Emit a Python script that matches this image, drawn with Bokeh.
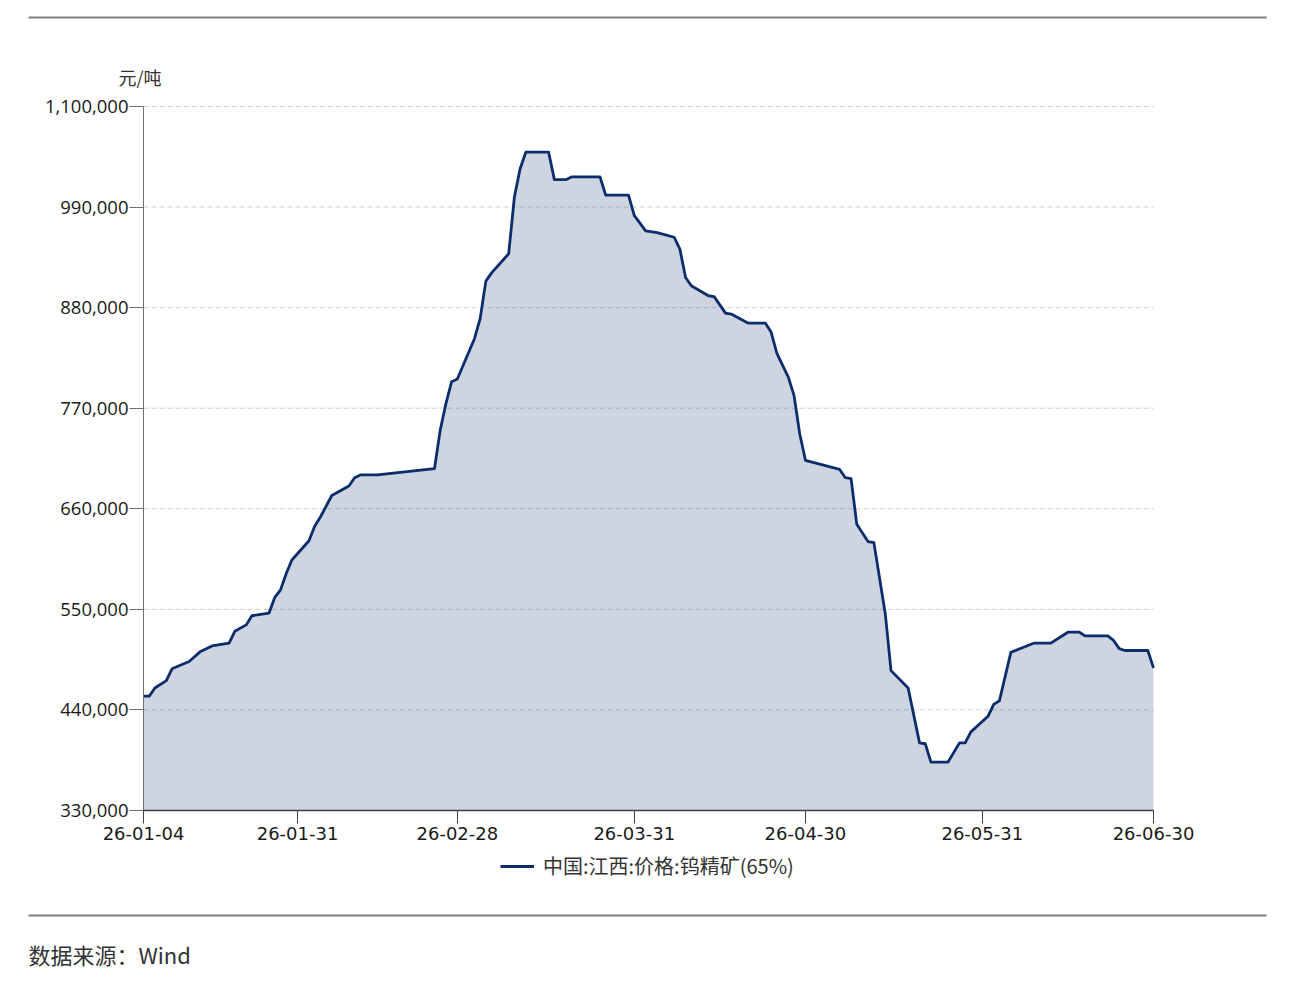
import pandas as pd
from bokeh.plotting import figure
from bokeh.models import (Range1d, FixedTicker, DatetimeTickFormatter, NumeralTickFormatter,
                          ColumnDataSource, Label, BoxAnnotation, Legend, LegendItem)
from bokeh.embed import file_html
from bokeh.resources import INLINE

# ---- data ----
dates = [
    "2026-01-04", "2026-01-05", "2026-01-06", "2026-01-08", "2026-01-09", "2026-01-12",
    "2026-01-14", "2026-01-16", "2026-01-19", "2026-01-20", "2026-01-22", "2026-01-23",
    "2026-01-26", "2026-01-27", "2026-01-28", "2026-01-29", "2026-01-30", "2026-02-02",
    "2026-02-03", "2026-02-04", "2026-02-06", "2026-02-09", "2026-02-10", "2026-02-11",
    "2026-02-14", "2026-02-24", "2026-02-25", "2026-02-26", "2026-02-27", "2026-02-28",
    "2026-03-03", "2026-03-04", "2026-03-05", "2026-03-06", "2026-03-09", "2026-03-10",
    "2026-03-11", "2026-03-12", "2026-03-16", "2026-03-17", "2026-03-19", "2026-03-20",
    "2026-03-25", "2026-03-26", "2026-03-30", "2026-03-31", "2026-04-02", "2026-04-04",
    "2026-04-07", "2026-04-08", "2026-04-09", "2026-04-10", "2026-04-13", "2026-04-14",
    "2026-04-16", "2026-04-17", "2026-04-20", "2026-04-23", "2026-04-24", "2026-04-25",
    "2026-04-27", "2026-04-28", "2026-04-29", "2026-04-30", "2026-05-06", "2026-05-07",
    "2026-05-08", "2026-05-09", "2026-05-11", "2026-05-12", "2026-05-14", "2026-05-15",
    "2026-05-18", "2026-05-20", "2026-05-21", "2026-05-22", "2026-05-25", "2026-05-27",
    "2026-05-28", "2026-05-29", "2026-06-01", "2026-06-02", "2026-06-03", "2026-06-05",
    "2026-06-09", "2026-06-12", "2026-06-15", "2026-06-17", "2026-06-18", "2026-06-22",
    "2026-06-23", "2026-06-24", "2026-06-25", "2026-06-29", "2026-06-30",
]
prices = [
    455000, 455000, 464000, 472000, 485000, 493000,
    504000, 510000, 513000, 526000, 533000, 543000,
    546000, 563000, 571000, 589000, 604000, 625000,
    641000, 651000, 674500, 685000, 694000, 697000,
    697000, 704000, 746000, 775000, 799000, 802000,
    846000, 868000, 909000, 918000, 939000, 1001000,
    1032000, 1050000, 1050000, 1020000, 1020000, 1023000,
    1023000, 1003000, 1003000, 981000, 964000, 962000,
    957000, 944000, 913000, 904000, 893000, 892000,
    874000, 873000, 863000, 863000, 853000, 830000,
    804000, 784000, 742000, 713000, 703000, 694000,
    693000, 643000, 624000, 623000, 545000, 483000,
    464000, 404000, 403000, 383000, 383000, 404000,
    404000, 416000, 433000, 446000, 450000, 503000,
    513000, 513000, 525000, 525000, 521000, 521000,
    516000, 507000, 505000, 505000, 486000,
]
x_tick_dates = ["2026-01-04", "2026-01-31", "2026-02-28", "2026-03-31",
                "2026-04-30", "2026-05-31", "2026-06-30"]
y_ticks = [330000, 440000, 550000, 660000, 770000, 880000, 990000, 1100000]
y_min, y_max = 330000, 1100000
unit_label = "元/吨"
series_name = "中国:江西:价格:钨精矿(65%)"
source_note = "数据来源：Wind"

# ---- layout / styles (pixels) ----
W, H = 1285, 980
PX_L, PX_R, PX_T, PX_B = 143, 1153, 106, 810      # where the data area sits on the page
NAVY = "#0c2d6b"
RULE = "#7f7f7f"
CJK = "Noto Sans CJK SC"

x0_ms = pd.Timestamp(x_tick_dates[0]).value / 1e6
x1_ms = pd.Timestamp(x_tick_dates[-1]).value / 1e6
ms_per_px = (x1_ms - x0_ms) / (PX_R - PX_L)
val_per_px = (y_max - y_min) / (PX_B - PX_T)

p = figure(width=W, height=H, x_axis_type="datetime",
           x_range=Range1d(x0_ms - PX_L * ms_per_px, x1_ms + (W - PX_R) * ms_per_px),
           y_range=Range1d(y_min - (H - PX_B) * val_per_px, y_max + PX_T * val_per_px),
           output_backend="svg", toolbar_location=None,
           min_border_left=0, min_border_right=0, min_border_top=0, min_border_bottom=0)
p.outline_line_color = None
p.background_fill_color = "white"
p.border_fill_color = "white"
p.grid.visible = False

source = ColumnDataSource(dict(x=pd.to_datetime(dates), y=prices))

# dashed horizontal grid lines, bounded to the data area
p.segment(x0=[x0_ms] * len(y_ticks), x1=[x1_ms] * len(y_ticks), y0=y_ticks, y1=y_ticks,
          line_color="#cfcfcf", line_dash="5 3", line_width=1)

p.varea(x="x", y1=y_min, y2="y", source=source, fill_color=NAVY, fill_alpha=0.2)
line_r = p.line(x="x", y="y", source=source, line_color=NAVY, line_width=2.8,
                line_join="round")

# x axis
tick_ms = [pd.Timestamp(d).value / 1e6 for d in x_tick_dates]
xa = p.xaxis[0]
xa.fixed_location = y_min
xa.bounds = (x0_ms, x1_ms)
xa.ticker = FixedTicker(ticks=tick_ms)
fmt = "%y-%m-%d"
xa.formatter = DatetimeTickFormatter(
    microseconds=fmt, milliseconds=fmt, seconds=fmt, minsec=fmt, minutes=fmt,
    hourmin=fmt, hours=fmt, days=fmt, months=fmt, years=fmt)
xa.axis_line_color = "#404040"
xa.axis_line_width = 1.5
xa.major_tick_line_color = "#404040"
xa.major_tick_out = 13
xa.major_tick_in = 0
xa.minor_tick_line_color = None
xa.major_label_standoff = 3
xa.major_label_text_font = "DejaVu Sans"
xa.major_label_text_font_size = "18px"
xa.major_label_text_color = "#1a1a1a"

# y axis
ya = p.yaxis[0]
ya.fixed_location = x0_ms
ya.bounds = (y_min, y_max)
ya.ticker = FixedTicker(ticks=y_ticks)
ya.formatter = NumeralTickFormatter(format="0,0")
ya.axis_line_color = "#707070"
ya.major_tick_line_color = "#707070"
ya.major_tick_out = 14
ya.major_tick_in = 0
ya.minor_tick_line_color = None
ya.major_label_standoff = 1
ya.major_label_text_font = "Open Sans"
ya.major_label_text_font_size = "18.5px"
ya.major_label_text_color = "#1a1a1a"

# unit label
p.add_layout(Label(x=118, y=H - 76, x_units="screen", y_units="screen", text=unit_label,
                   text_font=CJK, text_font_size="18px", text_color="#333333",
                   text_align="left", text_baseline="middle"))

# legend
legend = Legend(items=[LegendItem(label=series_name, renderers=[line_r])],
                location=(500, H - 880), orientation="horizontal",
                glyph_width=34, glyph_height=24, label_height=24, label_standoff=9,
                padding=0, margin=0, spacing=0,
                border_line_color=None, background_fill_alpha=0,
                label_text_font=CJK, label_text_font_size="20px",
                label_text_color="#333333")
p.add_layout(legend, "center")

# horizontal rules
for top_px in (16, 914):
    p.add_layout(BoxAnnotation(left=28, right=1266, top=H - top_px, bottom=H - top_px - 2,
                               left_units="screen", right_units="screen",
                               top_units="screen", bottom_units="screen",
                               fill_color=RULE, fill_alpha=1, line_color=None))

# source note
p.add_layout(Label(x=28, y=H - 953, x_units="screen", y_units="screen", text=source_note,
                   text_font=CJK, text_font_size="22px", text_color="#333333",
                   text_align="left", text_baseline="middle"))

open("out.html", "w").write(file_html(p, INLINE))
